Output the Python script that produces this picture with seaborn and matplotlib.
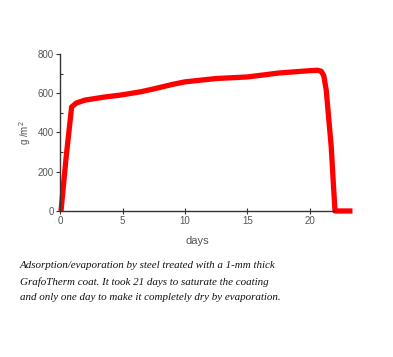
import matplotlib
matplotlib.use('Agg')
import matplotlib.pyplot as plt
import seaborn as sns
import pandas as pd
from matplotlib.ticker import MultipleLocator

# values
days = [0.08, 0.5, 0.93, 1.3, 2.0, 3.5, 5.0, 6.5, 7.5, 9.0, 10.0, 12.5, 15.0,
        17.5, 20.0, 20.6, 20.9, 21.1, 21.3, 21.5, 21.7, 21.85, 22.0, 23.4]
grams = [0, 280, 530, 550, 565, 580, 592, 608, 622, 645, 658, 675, 683,
         703, 715, 717, 712, 690, 616, 470, 327, 160, 0, 0]

caption = ("Adsorption/evaporation by steel treated with a 1-mm thick\n"
           "GrafoTherm coat. It took 21 days to saturate the coating\n"
           "and only one day to make it completely dry by evaporation.")

df = pd.DataFrame({'days': days, 'g_m2': grams})

sns.set_theme(style='white')
plt.rcParams['font.family'] = ['Liberation Sans', 'DejaVu Sans']

fig = plt.figure(figsize=(3.93, 3.57), dpi=100)
ax = fig.add_axes([0.1527, 0.409, 0.6997, 0.4398])

sns.lineplot(data=df, x='days', y='g_m2', ax=ax, color='#ff0000',
             linewidth=3.8, sort=False, clip_on=False, solid_joinstyle='round',
             solid_capstyle='butt')

ax.set_xlim(0, 22)
ax.set_ylim(0, 800)
ax.xaxis.set_major_locator(MultipleLocator(5))
ax.yaxis.set_major_locator(MultipleLocator(200))
ax.yaxis.set_minor_locator(MultipleLocator(100))

for side in ['top', 'right']:
    ax.spines[side].set_visible(False)
for side in ['left', 'bottom']:
    ax.spines[side].set_color('#333333')
    ax.spines[side].set_linewidth(1.0)

ax.tick_params(axis='both', which='major', length=3, width=0.8, colors='#333333',
               labelcolor='#555555', labelsize=7, pad=1.5, bottom=True, left=True)
ax.tick_params(axis='y', which='minor', length=2, width=0.8, direction='in',
               colors='#333333', left=True)
ax.tick_params(axis='x', which='major', direction='inout', length=4)

ax.set_xlabel('days', fontsize=8, color='#555555', labelpad=7)
ax.set_ylabel('g /m$^2$', fontsize=7, color='#555555', labelpad=3)
ax.grid(False)

fig.text(0.051, 0.268, caption, family=['Liberation Serif', 'DejaVu Serif'],
         style='italic', fontsize=7.9, color='#111111', linespacing=1.85,
         va='top', ha='left')

fig.savefig('out.png', dpi=100)
plt.close(fig)
